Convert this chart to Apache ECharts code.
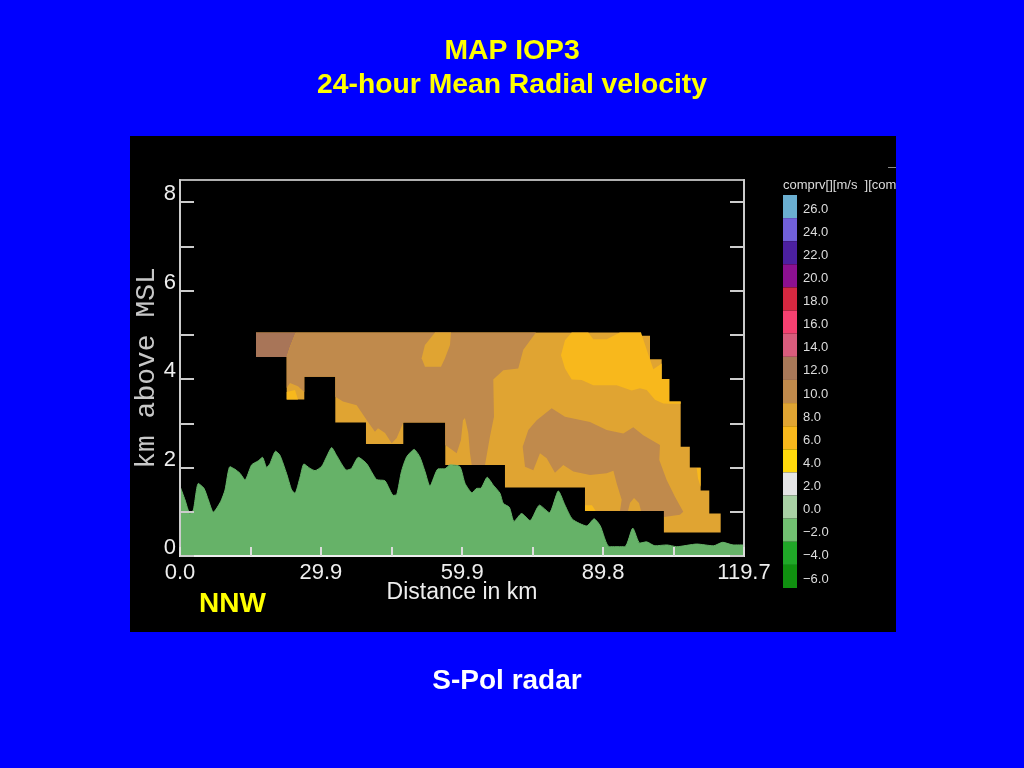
<!DOCTYPE html>
<html>
<head>
<meta charset="utf-8" />
<title>MAP IOP3 24-hour Mean Radial velocity</title>
<style type="text/css">
    html,body{margin:0;padding:0;background-color:#0000ff;}
    #chart{width:1024px;height:768px;}
</style>
</head>
<body>
<div id="chart"></div>
<script src="https://cdn.jsdelivr.net/npm/echarts@6/dist/echarts.min.js"></script>
<script>
// tick values and labels
var xTicks = [0, 14.96, 29.93, 44.89, 59.85, 74.81, 89.78, 104.74, 119.7];
var xTickLabels = [0, 29.9, 59.9, 89.8, 119.7];
var yTicks = [0, 1, 2, 3, 4, 5, 6, 7, 8];
var yTickLabels = [0, 2, 4, 6, 8];

// colour scale, m/s
var scaleLabels = ['26.0','24.0','22.0','20.0','18.0','16.0','14.0','12.0','10.0','8.0','6.0','4.0','2.0','0.0','\u22122.0','\u22124.0','\u22126.0'];
var scaleColors = ['#6aaed0','#7060d8','#4c20a0','#8c1090','#d42840','#f54070','#d85c7c','#a87858','#c08a4c','#e0a432','#f8b81c','#ffd80c','#e4e4e4','#a8d0a4','#70c070','#20a828','#109010'];

// terrain height [km, km above MSL]
var terrain = [[0,1.58],[1.06,1.27],[2.12,0.96],[2.83,1.04],[3.89,1.64],[5.09,1.53],[6.01,1.27],[7.07,0.99],[8.63,1.23],[9.55,1.49],
    [10.6,2.02],[11.67,1.96],[12.73,1.87],[13.8,1.72],[15.2,2.06],[16.6,2.15],[17.5,2.23],[18.4,2.0],[19.1,2.09],[20.3,2.37],
    [21.2,2.28],[22.6,1.87],[23.7,1.49],[24.4,1.42],[25.5,1.79],[26.3,2.08],[27.6,1.98],[28.65,1.93],[30.1,2.03],[31.1,2.24],
    [32.2,2.45],[33.2,2.28],[35.4,1.94],[36.4,1.98],[37.85,2.23],[39.6,2.09],[41.7,1.73],[43.5,1.70],[45.3,1.37],[46.0,1.39],
    [47.0,1.91],[48.1,2.24],[49.7,2.41],[50.9,2.24],[52.0,1.91],[53.05,1.58],[54.8,1.97],[56.2,1.97],[57.3,2.06],[59.4,2.02],
    [60.5,1.64],[62.0,1.43],[63.0,1.53],[63.8,1.53],[65.2,1.78],[66.5,1.60],[67.9,1.42],[68.6,1.19],[69.9,1.10],[70.9,0.78],
    [72.5,0.96],[74.3,0.80],[76.3,1.15],[78.4,0.98],[80.3,1.47],[81.7,1.15],[83.3,0.83],[86.3,0.68],[87.9,0.84],[89.2,0.68],
    [91.1,0.21],[94.4,0.21],[96.1,0.63],[97.6,0.29],[99.0,0.32],[100.8,0.23],[103.3,0.25],[105.4,0.21],[109.7,0.27],[113.2,0.23],
    [115.2,0.31],[117.4,0.25],[119.7,0.25]];

// velocity contours [km, km above MSL]
var echoOutline = [[16.13,5.05],[97.84,5.05],[97.84,4.98],[99.75,4.98],[99.75,4.45],[102.23,4.45],[102.23,4.0],[103.84,4.0],[103.84,3.49],[106.26,3.49],
    [106.26,2.47],[108.2,2.47],[108.2,2.0],[110.5,2.0],[110.5,1.48],[112.33,1.48],[112.33,0.96],[114.75,0.96],[114.75,0.53],[102.7,0.53],
    [102.7,1.02],[85.95,1.02],[85.95,1.55],[68.97,1.55],[68.97,2.06],[56.3,2.06],[56.3,3.02],[47.39,3.02],[47.39,2.53],[39.47,2.53],
    [39.47,3.02],[32.96,3.02],[32.96,4.05],[26.38,4.05],[26.38,3.54],[22.64,3.54],[22.64,4.50],[16.13,4.50]];
var region12 = [[16.13,5.05],[24.55,5.05],[23.34,4.73],[22.64,4.50],[16.13,4.50]];
var region10West = [[24.55,5.05],[75.55,5.05],[72.86,4.66],[71.79,4.24],[68.61,4.20],[66.49,3.99],[66.64,3.15],[65.79,2.70],[64.73,2.06],[61.91,2.06],
    [61.54,2.33],[61.18,2.78],[60.48,3.12],[60.06,3.07],[59.63,2.62],[58.72,2.32],[57.72,2.40],[56.30,2.51],[56.30,3.02],[47.39,3.02],
    [45.99,2.67],[44.93,2.55],[43.51,2.78],[42.02,2.89],[41.38,2.81],[39.90,3.03],[38.90,3.19],[37.50,3.41],[34.59,3.49],[32.96,3.60],
    [32.96,4.05],[26.38,4.05],[26.38,3.71],[25.04,3.84],[23.34,3.91],[22.64,3.80],[22.64,4.50],[23.34,4.73]];
var region10East = [[78.88,3.34],[81.71,3.15],[87.01,3.03],[90.56,2.85],[94.08,2.77],[96.20,2.91],[98.32,2.73],[101.87,2.51],[101.72,2.17],[103.29,1.72],
    [105.05,1.34],[106.81,1.00],[106.11,0.93],[102.72,0.88],[102.72,1.02],[93.38,1.02],[93.74,1.27],[92.68,1.64],[91.98,1.93],[90.56,1.87],
    [87.01,1.83],[83.47,1.91],[81.35,2.06],[79.58,1.88],[77.82,2.21],[76.40,2.32],[74.98,1.94],[73.22,2.02],[72.73,2.47],[73.92,2.85],[75.70,3.07]];
var patch8Top = [[54.12,5.05],[57.51,5.05],[57.30,4.77],[56.24,4.47],[55.39,4.28],[51.99,4.28],[51.29,4.47],[51.99,4.77]];
var patch8Low = [[95.08,1.02],[95.50,1.20],[96.35,1.31],[97.41,1.20],[97.84,1.02]];
var region6 = [[83.13,5.05],[86.65,5.05],[87.71,4.90],[90.56,4.90],[93.38,5.05],[97.84,5.05],[99.05,4.66],[100.45,4.22],[102.23,4.35],[102.23,4.0],
    [103.84,4.0],[103.84,3.49],[106.26,3.49],[106.26,3.44],[103.78,3.44],[102.57,3.45],[100.81,3.53],[99.05,3.75],[97.62,3.79],[95.86,3.74],
    [92.68,3.86],[87.71,3.86],[85.25,3.98],[83.13,3.99],[81.71,4.24],[80.86,4.54],[81.71,4.88]];
var spot6South = [[85.95,1.02],[85.95,1.15],[87.44,1.15],[88.22,1.02]];
var spot6East = [[109.66,1.99],[110.50,1.99],[110.50,1.56],[109.93,1.76]];
var spot6West = [[22.64,3.71],[24.41,3.75],[25.04,3.54],[22.64,3.54]];

var orange8 = '#e0a432', brown10 = '#c08a4c', brown12 = '#a87558', amber6 = '#f8b81c';
var regions = [
    {points: echoOutline, color: orange8},
    {points: region12, color: brown12},
    {points: region10West, color: brown10},
    {points: region10East, color: brown10},
    {points: patch8Top, color: orange8},
    {points: patch8Low, color: orange8},
    {points: region6, color: amber6},
    {points: spot6South, color: amber6},
    {points: spot6East, color: amber6},
    {points: spot6West, color: amber6}
];

var font = 'Liberation Sans';
var chart = echarts.init(document.getElementById('chart'));

chart.setOption({
    animation: false,
    backgroundColor: '#0000ff',
    title: [
        {text: 'MAP IOP3\n24-hour Mean Radial velocity', left: 507, textAlign: 'center', top: 29,
            textStyle: {color: '#ffff00', fontFamily: font, fontWeight: 'bold', fontSize: 28.3, lineHeight: 34}},
        {text: 'NNW', left: 194, top: 585, textStyle: {color: '#ffff00', fontFamily: font, fontWeight: 'bold', fontSize: 28}},
        {text: 'S-Pol radar', left: 502, textAlign: 'center', top: 662, textStyle: {color: '#ffffff', fontFamily: font, fontWeight: 'bold', fontSize: 28}}
    ],
    graphic: [
        {type: 'rect', z: -10, shape: {x: 130, y: 136, width: 766, height: 496}, style: {fill: '#000000'}},
        {type: 'rect', z: -5, shape: {x: 888, y: 167, width: 8, height: 1}, style: {fill: '#888888'}},
        {type: 'text', z: 50, x: 783, y: 179, style: {text: 'comprv[][m/s  ][comp', fill: '#dddddd', fontFamily: font, fontSize: 13}},
        {type: 'rect', z: 60, shape: {x: 896, y: 170, width: 20, height: 30}, style: {fill: '#0000ff'}}
    ],
    grid: [
        {left: 180, top: 180, width: 564, height: 376, show: true, borderColor: '#b0b0b0', borderWidth: 2, backgroundColor: '#000000'},
        {left: 783, top: 195, width: 14, height: 393}
    ],
    xAxis: [
        {type: 'value', gridIndex: 0, min: 0, max: 119.7, splitLine: {show: false}, z: 5,
            axisLine: {onZero: false, lineStyle: {color: '#eeeeee', width: 2}},
            axisTick: {inside: true, length: 9, lineStyle: {color: '#dddddd', width: 2}, customValues: xTicks},
            axisLabel: {color: '#eeeeee', fontFamily: font, fontSize: 22, margin: 6, customValues: xTickLabels,
                formatter: function (v) { return v.toFixed(1); }},
            name: 'Distance in km', nameLocation: 'middle', nameGap: 25, nameMoveOverlap: false,
            nameTextStyle: {color: '#eeeeee', fontFamily: font, fontSize: 23}},
        {type: 'value', gridIndex: 1, min: 0, max: 1, show: false}
    ],
    yAxis: [
        {type: 'value', gridIndex: 0, min: 0, max: 8.5, splitLine: {show: false}, z: 5,
            axisLine: {show: true, onZero: false, lineStyle: {color: '#cccccc', width: 2}},
            axisTick: {inside: true, length: 14, lineStyle: {color: '#cccccc', width: 2}, customValues: yTicks},
            axisLabel: {color: '#eeeeee', fontFamily: font, fontSize: 22, margin: 4, verticalAlign: 'bottom', lineHeight: 16, customValues: yTickLabels},
            name: 'km above MSL', nameLocation: 'middle', nameGap: 19, nameRotate: 90, nameMoveOverlap: false,
            nameTextStyle: {color: '#c8c8c8', fontFamily: 'Liberation Mono', fontSize: 28}},
        {type: 'value', gridIndex: 0, position: 'right', min: 0, max: 8.5, splitLine: {show: false}, z: 5,
            axisLine: {show: true, onZero: false, lineStyle: {color: '#cccccc', width: 2}},
            axisTick: {show: true, inside: true, length: 14, lineStyle: {color: '#cccccc', width: 2}, customValues: yTicks},
            axisLabel: {show: false}},
        {type: 'category', gridIndex: 1, position: 'right', inverse: true, data: scaleLabels,
            axisLine: {show: false}, axisTick: {show: false},
            axisLabel: {color: '#dddddd', fontFamily: font, fontSize: 13, margin: 6, verticalAlign: 'top', lineHeight: 5, interval: 0}}
    ],
    series: [
        {
            type: 'custom',
            xAxisIndex: 0,
            yAxisIndex: 0,
            z: 2,
            data: regions.map(function (r, i) { return [i]; }),
            encode: {x: [], y: []},
            renderItem: function (params, api) {
                var r = regions[params.dataIndex];
                return {
                    type: 'polygon',
                    shape: {points: r.points.map(function (p) { return api.coord(p); })},
                    style: {fill: r.color}
                };
            }
        },
        {
            type: 'line',
            xAxisIndex: 0,
            yAxisIndex: 0,
            z: 3,
            data: terrain,
            showSymbol: false,
            smooth: 0.2,
            lineStyle: {color: '#66b268', width: 1},
            areaStyle: {color: '#66b268', opacity: 1}
        },
        {
            type: 'bar',
            xAxisIndex: 1,
            yAxisIndex: 2,
            barWidth: '100%',
            data: scaleColors.map(function (c) { return {value: 1, itemStyle: {color: c}}; })
        }
    ]
});
</script>
</body>
</html>
